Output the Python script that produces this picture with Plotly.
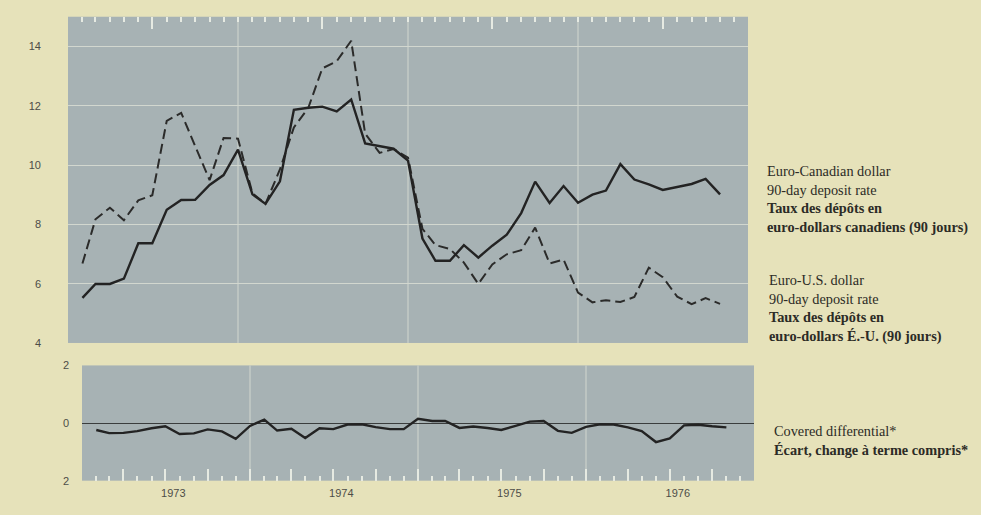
import pandas as pd
import plotly.graph_objects as go

# ---------------- data (monthly, Feb 1973 - Nov 1976) ----------------
months = pd.date_range("1973-02-01", periods=46, freq="MS")

euro_canadian = [5.52, 5.99, 5.99, 6.17, 7.36, 7.36, 8.49, 8.82, 8.83, 9.33,
                 9.66, 10.52, 9.01, 8.69, 9.45, 11.86, 11.93, 11.97, 11.81, 12.21,
                 10.73, 10.64, 10.55, 10.15, 7.52, 6.77, 6.77, 7.30, 6.88, 7.28,
                 7.65, 8.38, 9.44, 8.72, 9.29, 8.73, 9.00, 9.14, 10.03, 9.51,
                 9.35, 9.16, 9.26, 9.36, 9.53, 9.01]

euro_us = [6.68, 8.17, 8.56, 8.14, 8.81, 8.98, 11.49, 11.76, 10.64, 9.49,
           10.91, 10.89, 9.05, 8.69, 9.85, 11.27, 11.93, 13.26, 13.50, 14.19,
           11.06, 10.41, 10.54, 10.25, 7.85, 7.30, 7.17, 6.71, 5.99, 6.65,
           6.99, 7.13, 7.89, 6.68, 6.81, 5.70, 5.37, 5.44, 5.38, 5.55,
           6.54, 6.22, 5.56, 5.31, 5.51, 5.32]

covered_diff = [-0.24, -0.35, -0.34, -0.28, -0.18, -0.11, -0.38, -0.36, -0.22, -0.29,
                -0.55, -0.10, 0.12, -0.26, -0.20, -0.52, -0.18, -0.21, -0.05, -0.04,
                -0.14, -0.21, -0.21, 0.15, 0.07, 0.07, -0.17, -0.12, -0.17, -0.24,
                -0.10, 0.05, 0.07, -0.27, -0.34, -0.13, -0.04, -0.05, -0.15, -0.28,
                -0.66, -0.53, -0.08, -0.06, -0.11, -0.15]

rate_ticks = [4, 6, 8, 10, 12, 14]
diff_ticks = [-2, 0, 2]
diff_ticktext = ["2", "0", "2"]

label_can = ("Euro-Canadian dollar<br>90-day deposit rate<br>"
             "<b>Taux des dépôts en</b><br><b>euro-dollars canadiens (90 jours)</b>")
label_us = ("Euro-U.S. dollar<br>90-day deposit rate<br>"
            "<b>Taux des dépôts en</b><br><b>euro-dollars É.-U. (90 jours)</b>")
label_diff = "Covered differential*<br><b>Écart, change à terme compris*</b>"

# ---------------- axis helpers (derived from the axis range) ----------------
x_start, x_end = "1973-01-01", "1976-12-31"
quarters = pd.date_range(x_start, x_end, freq="QS")
quarter_text = [str(d.year) if d.month == 7 else "" for d in quarters]
year_starts = pd.date_range("1974-01-01", x_end, freq="YS")

# ---------------- styling ----------------
W, H = 981, 515
def fx(p):
    return p / W
def fy(p):
    return 1 - p / H

PAPER = "#e6e2ba"
PLOT = "#a7b2b4"
GRID = "#d2d7cf"
TICKC = "#e6eae2"
INK = "#232323"
tickfont = dict(family="Liberation Sans, Arial, sans-serif", size=11, color="#4d4d48")
textfont = dict(family="Liberation Serif, Times New Roman, serif", size=14.3, color="#2c2b26")
xr = [x_start, x_end]

fig = go.Figure()
fig.add_trace(go.Scatter(x=months, y=euro_us, mode="lines", xaxis="x", yaxis="y",
                         line=dict(color="#2b2b2a", width=2, dash="10px,5px"),
                         showlegend=False, hoverinfo="skip"))
fig.add_trace(go.Scatter(x=months, y=euro_canadian, mode="lines", xaxis="x", yaxis="y",
                         line=dict(color=INK, width=2.4),
                         showlegend=False, hoverinfo="skip"))
fig.add_trace(go.Scatter(x=months, y=covered_diff, mode="lines", xaxis="x2", yaxis="y2",
                         line=dict(color=INK, width=2.4),
                         showlegend=False, hoverinfo="skip"))

tick_style = dict(type="date", range=xr, tickmode="array", tickvals=quarters,
                  ticktext=quarter_text, ticks="inside", ticklen=12, tickwidth=1.5,
                  tickcolor=TICKC, showgrid=False, zeroline=False,
                  minor=dict(ticks="inside", ticklen=5, dtick="M1", tick0=x_start,
                             tickcolor=TICKC, tickwidth=1.5, showgrid=False))

# yearly vertical grid lines in both panels
shapes = []
for d in year_starts:
    for xa, ya in (("x", "y domain"), ("x2", "y2 domain")):
        shapes.append(dict(type="line", xref=xa, yref=ya, x0=d, x1=d, y0=0, y1=1,
                           line=dict(color=GRID, width=1), layer="below"))

fig.update_layout(
    width=W, height=H, margin=dict(l=0, r=0, t=0, b=0),
    paper_bgcolor=PAPER, plot_bgcolor=PLOT,
    xaxis=dict(domain=[fx(68), fx(748)], anchor="y", side="top",
               showticklabels=False, **tick_style),
    yaxis=dict(domain=[fy(345), fy(11)], anchor="x", range=[4, 15], tickvals=rate_ticks,
               showgrid=True, gridcolor=GRID, gridwidth=1.2, ticks="", tickfont=tickfont,
               ticklabelstandoff=26, zeroline=False),
    xaxis2=dict(domain=[fx(82), fx(754)], anchor="y2", side="bottom",
                showticklabels=True, tickfont=tickfont, ticklabelshift=8,
                ticklabelstandoff=4, **tick_style),
    yaxis2=dict(domain=[fy(486), fy(368)], anchor="x2", range=[-2, 2], tickvals=diff_ticks,
                ticktext=diff_ticktext, showgrid=False, zeroline=True,
                zerolinecolor="#3a3d3d", zerolinewidth=1.2, ticks="", tickfont=tickfont,
                ticklabelstandoff=12),
    shapes=shapes,
    annotations=[
        dict(text=label_can, x=fx(765), y=fy(198.5), xref="paper", yref="paper",
             xanchor="left", yanchor="middle", align="left", showarrow=False, font=textfont),
        dict(text=label_us, x=fx(767), y=fy(310), xref="paper", yref="paper",
             xanchor="left", yanchor="middle", align="left", showarrow=False, font=textfont),
        dict(text=label_diff, x=fx(772), y=fy(444.5), xref="paper", yref="paper",
             xanchor="left", yanchor="middle", align="left", showarrow=False, font=textfont),
    ],
)

fig.write_html(
    "out.html",
    config={"displayModeBar": False},
    post_script="document.body.style.margin='0';document.body.style.background='%s';" % PAPER,
)
